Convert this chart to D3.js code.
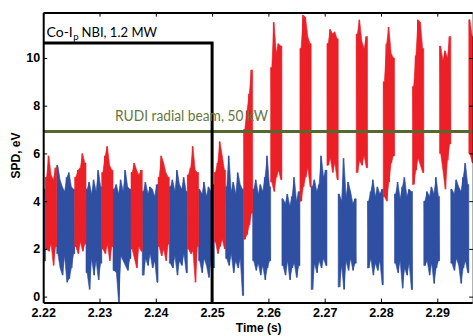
<!DOCTYPE html>
<html>
<head>
<meta charset="utf-8">
<script src="https://cdn.jsdelivr.net/npm/d3@7"></script>
<style>
  html, body { margin: 0; padding: 0; background: #fff; }
  svg { display: block; }
</style>
</head>
<body>
<svg id="chart"></svg>
<script>
let tStart = 2.22
let tStep = 0.0004

let spdHigh = [
  4.5,
  5.0, 5.9, 5.1, 4.9, 5.4,
  5.5, 4.9, 4.6, 4.4, 5.0, 5.2, 4.6, 4.5,
  5.0, 5.3, 5.4, 6.0, 5.6,
  4.5, 4.8, 4.3, 4.9, 4.4, 5.3, 4.6,
  5.2, 5.9, 6.3, 5.5, 5.3,
  4.5, 4.7, 4.3, 4.9, 4.4, 5.3, 4.6, 4.5,
  5.2, 5.6, 5.3, 5.1, 5.3,
  4.4, 4.8, 4.3, 4.6, 4.5, 4.2, 4.7,
  5.0, 5.9, 5.6, 5.2, 5.0,
  4.6, 4.9, 4.4, 5.3, 4.7, 4.5, 5.0, 4.4,
  5.1, 5.4, 6.3, 5.3, 5.2,
  4.5, 4.3, 4.8, 4.2, 4.6, 4.4, 4.7,
  5.2, 5.6, 6.5, 5.9, 5.3,
  4.6, 5.9, 4.4, 4.8, 4.3, 5.2, 4.7, 4.5,
  7.0, 7.8, 8.5, 9.5,
  4.5, 4.9, 4.3, 4.7, 4.4, 5.0, 5.9, 4.6,
  9.6, 11.5, 10.2, 10.6, 10.5,
  4.1, 3.9, 4.3, 3.8, 4.2, 5.0, 4.0, 4.4,
  10.4, 11.8, 11.7, 10.9, 10.6,
  4.6, 4.9, 4.4, 4.7, 5.9, 5.0, 5.3,
  10.6, 11.2, 11.0, 11.1, 10.8,
  4.3, 4.0, 5.8, 4.2, 4.8, 4.4, 3.9, 4.1,
  11.0, 11.6, 10.7, 10.4, 10.9,
  4.0, 4.4, 4.9, 4.2, 4.6, 4.3, 4.5,
  9.0, 10.6, 11.3, 10.2, 10.0,
  4.3, 4.8, 4.1, 4.6, 5.0, 4.2, 4.5, 4.4,
  8.8, 10.1, 11.6, 11.5, 10.4,
  4.0, 4.4, 4.2, 4.6, 4.3, 5.0, 4.2,
  10.5, 9.9, 10.3, 10.0, 10.9,
  4.5, 4.3, 4.9, 4.6, 4.4, 5.0, 5.6, 4.7,
  11.6, 10.9
]

let spdLow = [
  1.5,
  2.0, 1.9, 2.2, 1.3, 2.1,
  1.8, 1.2, 0.9, 1.7, 0.6, 0.75, 1.2, 1.8,
  2.1, 1.8, 2.3, 1.9, 2.2,
  1.0, 0.3, 1.6, 0.9, 1.5, 0.7, 1.4,
  2.0, 1.8, 2.2, 1.5, 2.1,
  1.1, 1.0, -0.25, 1.7, 1.5, 1.3, 1.1, 1.6,
  2.0, 1.6, 1.2, 2.1, 1.9,
  0.9, 1.6, 1.3, 1.8, 1.2, 1.5, 0.6,
  2.1, 1.7, 2.0, 1.5, 2.2,
  1.4, 1.2, 1.7, 0.9, 1.5, 1.3, 1.8, 1.0,
  2.0, 1.8, 1.9, 0.6, 2.1,
  1.5, 1.0, 1.6, 1.3, 0.8, 1.5, 1.2,
  2.3, 1.8, 2.1, 2.4, 2.0,
  1.6, 1.3, 1.8, 1.0, 1.5, 1.2, 1.6, 0.05,
  2.4, 2.6, 3.0, 3.5,
  1.5, 1.1, 1.4, 0.9, 1.3, 0.7, 1.2, 1.5,
  4.8, 4.4, 5.0, 5.3, 4.9,
  1.3, 0.9, 1.5, 0.7, 1.2, 1.4, 0.8, 1.3,
  4.0, 4.6, 5.0, 5.4, 4.6,
  0.3, 1.4, 1.0, 1.5, 1.2, 1.6, 1.3,
  5.5, 5.8, 5.2, 5.6, 4.9,
  0.4, 1.3, 0.3, 1.5, 1.1, 1.6, 1.1, 1.4,
  5.2, 5.7, 5.5, 5.9, 5.4,
  1.2, 1.6, 0.9, 1.4, 1.1, 1.5, 0.5,
  4.2, 4.0, 4.8, 5.6, 5.9,
  1.4, 1.0, 1.5, 0.35, 1.2, 0.9, 1.4, 0.3,
  4.7, 5.3, 5.8, 5.5, 5.2,
  1.3, 1.5, 0.9, 1.4, 0.55, 1.2, 1.5,
  6.0, 5.3, 4.5, 5.7, 6.4,
  1.4, 1.1, 1.6, 1.3, 0.55, 1.2, 1.5, 1.0,
  6.0, 5.6
]

// RUDI beam-on windows (drawn red)
let burstStart = [2.2204, 2.2256, 2.2304, 2.2356, 2.2404, 2.2456, 2.2504, 2.2556,
                  2.2604, 2.2656, 2.2704, 2.2756, 2.2804, 2.2856, 2.2904, 2.2956]
let burstEnd   = [2.2224, 2.2276, 2.2324, 2.2376, 2.2424, 2.2476, 2.2524, 2.2572,
                  2.2624, 2.2676, 2.2724, 2.2776, 2.2824, 2.2876, 2.2924, 2.2970]

// NBI and RUDI markers
let nbiTime = [2.22, 2.25, 2.25]
let nbiLevel = [10.63, 10.63, -0.25]
let rudiTime = [2.22, 2.2962]
let rudiLevel = [6.92, 6.92]

let xTicks = [2.22, 2.23, 2.24, 2.25, 2.26, 2.27, 2.28, 2.29]
let yTicks = [0, 2, 4, 6, 8, 10]

let width = 473
let height = 336
let plotLeft = 43.2
let plotRight = 472.2
let plotTop = 12.6
let plotBottom = 302.6

let blue = '#2f50a2'
let red = '#ec2027'

let svg = d3.select('#chart')
    .attr('width', width)
    .attr('height', height)

let xScale = d3.scaleLinear()
    .domain([2.22, 2.2962])
    .range([plotLeft, plotRight])

let yScale = d3.scaleLinear()
    .domain([-0.25, 11.9])
    .range([plotBottom, plotTop])

svg.append('clipPath')
    .attr('id', 'plot-clip')
    .append('rect')
    .attr('x', plotLeft)
    .attr('y', plotTop)
    .attr('width', plotRight - plotLeft + 2)
    .attr('height', plotBottom - plotTop)

let bins = spdHigh.map((h, i) => {
    let t = tStart + i * tStep
    return { t: t, mid: t + tStep / 2, hi: h, lo: spdLow[i] }
})

let inBurst = b => burstStart.some((s, k) => b.mid >= s && b.mid <= burstEnd[k])

// split the trace into beam-off (blue) and beam-on (red) runs
let runs = []
bins.forEach(b => {
    let on = inBurst(b)
    let cur = runs[runs.length - 1]
    if (cur && cur.on === on) {
        cur.bins.push(b)
    } else {
        runs.push({ on: on, bins: [b] })
    }
})

// solid core between the bin envelopes
let band = d3.area()
    .x(d => xScale(d.t))
    .y0(d => yScale(d.lo))
    .y1(d => yScale(d.hi))

// zigzag through high / low of each bin for the spiky edge
let zig = d3.line()
    .x(d => xScale(d.t))
    .y(d => yScale(d.v))

let bandPoints = list => {
    let first = list[0]
    let last = list[list.length - 1]
    return [{ t: first.t, hi: first.hi, lo: first.lo }]
        .concat(list.map(b => ({ t: b.mid, hi: b.hi, lo: b.lo })))
        .concat([{ t: last.t + tStep, hi: last.hi, lo: last.lo }])
}

let zigPoints = list => {
    let pts = []
    list.forEach(b => {
        pts.push({ t: b.t + tStep * 0.25, v: b.hi })
        pts.push({ t: b.t + tStep * 0.75, v: b.lo })
    })
    return pts
}

let plot = svg.append('g').attr('clip-path', 'url(#plot-clip)')

let drawRun = run => {
    let colour = run.on ? red : blue
    plot.append('path')
        .datum(bandPoints(run.bins))
        .attr('d', band)
        .attr('fill', colour)
        .attr('stroke', colour)
        .attr('stroke-width', 0.6)
    plot.append('path')
        .datum(zigPoints(run.bins))
        .attr('d', zig)
        .attr('fill', 'none')
        .attr('stroke', colour)
        .attr('stroke-width', 1.1)
        .attr('stroke-linejoin', 'bevel')
}

runs.filter(r => !r.on).forEach(drawRun)
runs.filter(r => r.on).forEach(drawRun)

let marker = d3.line()
    .x(d => xScale(d[0]))
    .y(d => yScale(d[1]))

plot.append('path')
    .datum(rudiTime.map((t, i) => [t, rudiLevel[i]]))
    .attr('d', marker)
    .attr('fill', 'none')
    .attr('stroke', '#56692c')
    .attr('stroke-width', 3)

plot.append('path')
    .datum(nbiTime.map((t, i) => [t, nbiLevel[i]]))
    .attr('d', marker)
    .attr('fill', 'none')
    .attr('stroke', '#000')
    .attr('stroke-width', 3)

// axes, ticks pointing inward like the original
let tickFont = '"Liberation Sans", Arial, sans-serif'

let xAxis = d3.axisBottom(xScale)
    .tickValues(xTicks)
    .tickFormat(d3.format('.2f'))
    .tickSizeInner(-4)
    .tickSizeOuter(0)
    .tickPadding(6)

let yAxis = d3.axisLeft(yScale)
    .tickValues(yTicks)
    .tickFormat(d3.format('d'))
    .tickSizeInner(-4)
    .tickSizeOuter(0)
    .tickPadding(3)

svg.append('g')
    .attr('transform', 'translate(0,' + plotBottom + ')')
    .call(xAxis)

svg.append('g')
    .attr('transform', 'translate(' + plotLeft + ',0)')
    .call(yAxis)

svg.append('g')
    .attr('transform', 'translate(0,' + plotTop + ')')
    .call(d3.axisTop(xScale).tickValues(xTicks).tickFormat('').tickSizeInner(-4).tickSizeOuter(0))

svg.append('g')
    .attr('transform', 'translate(' + (plotRight + 1) + ',0)')
    .call(d3.axisRight(yScale).tickValues(yTicks).tickFormat('').tickSizeInner(-4).tickSizeOuter(0))

svg.selectAll('.domain').attr('stroke', '#000').attr('stroke-width', 2)
svg.selectAll('.tick line').attr('stroke', '#000').attr('stroke-width', 1)

svg.selectAll('.tick text')
    .attr('font-family', tickFont)
    .attr('font-size', 12.5)
    .attr('font-weight', 'bold')
    .attr('fill', '#000')

svg.append('text')
    .attr('x', (plotLeft + plotRight) / 2 + 1)
    .attr('y', 332)
    .attr('text-anchor', 'middle')
    .attr('font-family', tickFont)
    .attr('font-size', 12)
    .attr('font-weight', 'bold')
    .text('Time (s)')

svg.append('text')
    .attr('transform', 'translate(19.5,155.5) rotate(-90)')
    .attr('text-anchor', 'middle')
    .attr('font-family', tickFont)
    .attr('font-size', 12)
    .attr('font-weight', 'bold')
    .text('SPD, eV')

// annotations
let noteFont = 'Lato, "Open Sans", sans-serif'

// "Co-Ip NBI, 1.2 MW" laid out in three pieces so the subscript sits clear
let noteX = 46.5
let coText = svg.append('text')
    .attr('x', noteX)
    .attr('y', 36.7)
    .attr('font-family', noteFont)
    .attr('font-size', 14)
    .text('Co-I')
noteX += coText.node().getComputedTextLength() + 0.4
let subText = svg.append('text')
    .attr('x', noteX)
    .attr('y', 40)
    .attr('font-family', noteFont)
    .attr('font-size', 9.5)
    .text('p')
noteX += subText.node().getComputedTextLength() + 3
svg.append('text')
    .attr('x', noteX)
    .attr('y', 36.7)
    .attr('font-family', noteFont)
    .attr('font-size', 14)
    .attr('textLength', 157 - noteX)
    .attr('lengthAdjust', 'spacingAndGlyphs')
    .text('NBI, 1.2 MW')

svg.append('text')
    .attr('x', 115)
    .attr('y', 120.5)
    .attr('font-family', noteFont)
    .attr('font-size', 14.5)
    .attr('fill', '#66773d')
    .attr('textLength', 153)
    .attr('lengthAdjust', 'spacingAndGlyphs')
    .text('RUDI radial beam, 50 kW')
</script>
</body>
</html>
